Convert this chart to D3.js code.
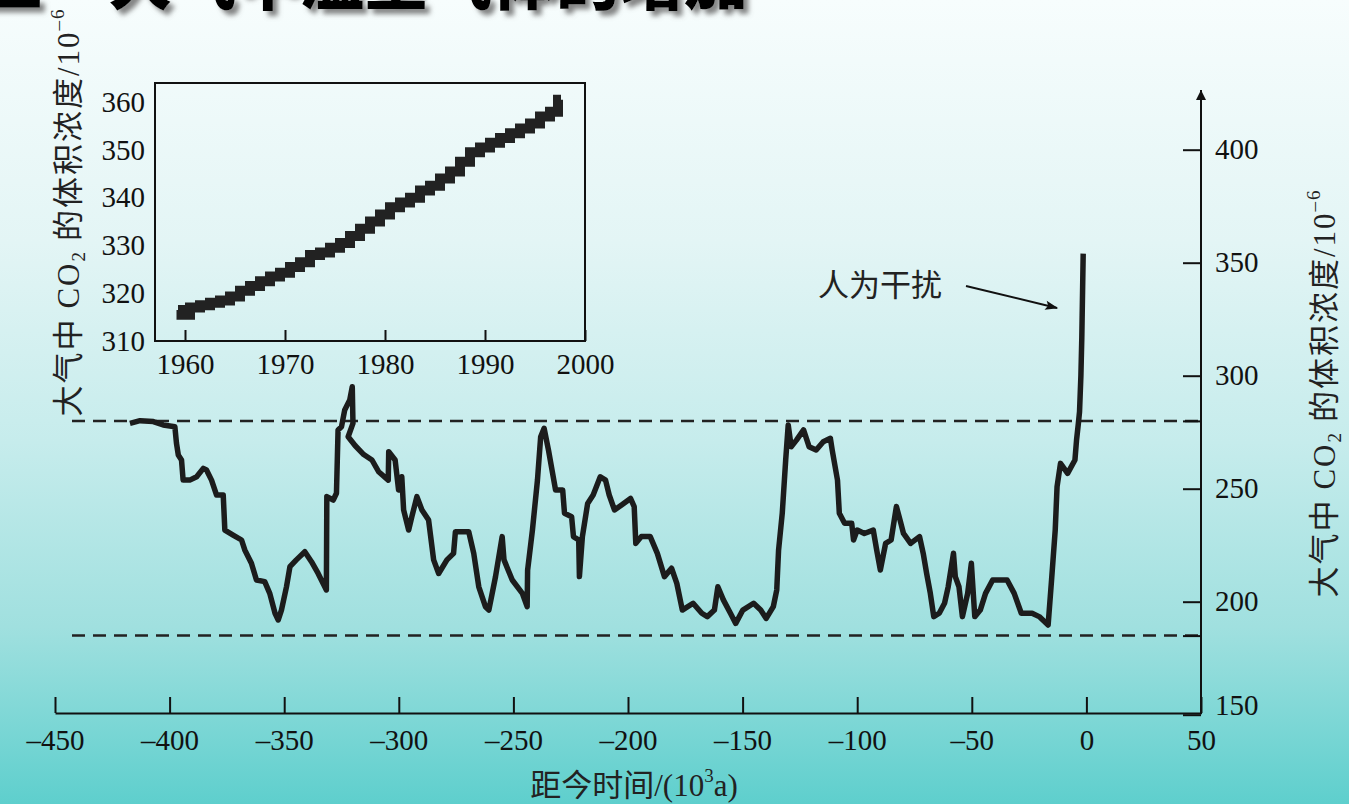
<!DOCTYPE html>
<html>
<head>
<meta charset="utf-8">
<script src="https://cdn.jsdelivr.net/npm/d3@7"></script>
<style>
  html, body { margin: 0; padding: 0; }
  svg { display: block; }
  .num { font-family: "Liberation Serif", "DejaVu Serif", serif; }
  .cjk { font-family: "Noto Sans CJK SC", sans-serif; }
</style>
</head>
<body>
<svg id="chart" width="1349" height="804"></svg>
<script>
// ---- data ----

// main chart: time before present (10^3 a) and CO2 (10^-6)
const kyr = [-417.3, -412.9, -407.1, -402.8, -397.7, -397.0, -396.2, -394.8, -394.1, -391.2,
  -388.2, -385.3, -383.9, -381.7, -379.5, -376.6, -375.9, -372.3, -368.6, -367.2,
  -364.3, -362.1, -358.5, -356.3, -354.0, -352.6, -351.2, -349.0, -347.5, -344.7,
  -341.0, -338.1, -335.2, -332.3, -331.6, -331.4, -328.6, -327.2, -326.5, -325.0,
  -323.6, -321.4, -320.3, -320.0, -322.1, -319.0, -315.3, -311.7, -308.8, -304.6,
  -304.4, -301.6, -300.1, -298.7, -297.9, -295.7, -294.3, -292.1, -289.9, -287.0,
  -284.8, -282.6, -279.0, -276.1, -275.3, -269.5, -267.3, -265.1, -262.2, -260.7,
  -257.8, -254.9, -254.1, -250.5, -246.1, -244.0, -243.8, -241.7, -239.5, -238.1,
  -236.6, -234.7, -231.6, -228.5, -227.7, -224.6, -223.8, -221.5, -221.2, -219.9,
  -217.6, -215.2, -212.1, -209.8, -208.2, -205.9, -202.8, -198.9, -197.3, -196.6,
  -194.2, -190.3, -187.2, -184.1, -181.0, -178.7, -176.3, -171.6, -167.8, -165.4,
  -162.3, -160.8, -158.4, -155.3, -153.0, -149.9, -145.2, -142.1, -139.7, -136.6,
  -135.1, -134.3, -132.7, -131.2, -130.1, -128.8, -126.5, -123.4, -121.0, -117.9,
  -114.8, -111.7, -110.9, -108.6, -107.8, -105.5, -102.4, -101.6, -100.0, -96.9,
  -93.0, -91.5, -89.9, -87.6, -85.2, -82.9, -81.3, -79.8, -76.7, -72.8,
  -71.2, -69.7, -68.1, -66.6, -64.2, -61.9, -60.3, -58.0, -57.2, -55.6,
  -54.1, -51.8, -50.2, -48.7, -46.3, -44.0, -40.9, -34.6, -31.5, -28.4,
  -23.7, -20.6, -16.7, -15.2, -13.6, -12.8, -11.3, -8.2, -5.0, -4.3,
  -3.5, -3.0, -2.4, -2.0, -1.4];
const co2 = [278.9, 280.1, 279.7, 278.2, 277.4, 270.1, 264.9, 262.7, 253.8, 253.8,
  255.3, 259.0, 258.3, 253.8, 247.2, 247.2, 231.7, 229.5, 227.3, 222.9,
  217.0, 209.6, 208.9, 203.7, 194.9, 191.9, 196.3, 206.6, 215.5, 218.5,
  222.1, 217.7, 212.5, 206.6, 205.2, 246.5, 245.0, 248.0, 276.0, 277.4,
  284.8, 289.2, 295.1, 278.9, 273.0, 269.0, 265.1, 262.7, 257.5, 253.8,
  266.4, 262.7, 249.4, 255.3, 240.6, 231.7, 237.6, 246.5, 240.6, 236.1,
  218.5, 212.5, 218.5, 221.4, 231.0, 231.0, 221.4, 206.6, 197.8, 196.3,
  211.1, 228.8, 218.5, 209.6, 203.7, 197.8, 214.0, 231.7, 253.8, 273.0,
  276.7, 267.1, 249.4, 249.4, 239.1, 237.6, 228.8, 227.3, 211.1, 228.8,
  243.5, 247.2, 255.3, 253.8, 247.2, 240.6, 242.8, 245.7, 242.1, 225.8,
  228.8, 228.8, 221.4, 211.1, 214.8, 208.1, 196.3, 199.3, 194.9, 193.4,
  196.3, 206.6, 200.8, 194.9, 190.4, 196.3, 199.3, 196.3, 192.6, 197.8,
  205.2, 222.9, 239.1, 262.7, 278.2, 268.6, 271.5, 276.0, 268.6, 267.1,
  270.8, 272.3, 267.1, 253.8, 239.1, 234.7, 234.7, 227.3, 231.7, 230.2,
  231.7, 222.9, 214.0, 225.8, 227.3, 242.1, 236.1, 230.2, 225.8, 228.8,
  221.4, 212.5, 203.7, 193.4, 194.9, 199.3, 206.6, 221.4, 211.1, 206.6,
  193.4, 203.7, 217.0, 193.4, 196.3, 203.7, 209.6, 209.6, 203.7, 194.9,
  194.9, 193.4, 189.7, 209.6, 231.7, 250.9, 261.2, 256.8, 262.7, 271.5,
  278.9, 284.0, 300.0, 317.0, 354.0];

// inset: Mauna Loa record, year and CO2 (10^-6)
const years = [1959.3, 1960, 1961, 1962, 1963, 1964, 1965, 1966, 1967, 1968,
  1969, 1970, 1971, 1972, 1973, 1974, 1975, 1976, 1977, 1978,
  1979, 1980, 1981, 1982, 1983, 1984, 1985, 1986, 1987, 1988,
  1989, 1990, 1991, 1992, 1993, 1994, 1995, 1996, 1997, 1997.6];
const ppm = [316.5, 315.5, 317, 317.5, 318, 318.5, 319.3, 320.5, 321.5, 322.5,
  323.5, 324.3, 325.5, 326.5, 328, 328.5, 329.5, 330.5, 332, 333.5,
  335, 336.5, 338, 339, 340, 341.5, 342.5, 344, 345.5, 347.5,
  349.5, 350.5, 351.5, 352.5, 353.5, 354.5, 355.5, 357, 358, 360.5];

// tick labels and reference levels
const mainXTicks = d3.range(-450, 51, 50);
const mainYTicks = [150, 200, 250, 300, 350, 400];
const refLevels = [280, 185];
const insetXTicks = [1960, 1970, 1980, 1990, 2000];
const insetYTicks = [310, 320, 330, 340, 350, 360];

// ---- drawing ----
const svg = d3.select("#chart");
const W = 1349, H = 804;
const numFont = 29;
const labelFont = 31;

const defs = svg.append("defs");
const bg = defs.append("linearGradient")
  .attr("id", "bg").attr("x1", 0).attr("y1", 0).attr("x2", 0).attr("y2", 1);
[[0, "#f7fdfd"], [0.3, "#e3f5f5"], [0.55, "#c6ecec"], [0.78, "#a0e0df"], [1, "#5ecfcd"]]
  .forEach(s => bg.append("stop").attr("offset", s[0]).attr("stop-color", s[1]));

const shadow = defs.append("filter").attr("id", "shadow")
  .attr("x", "-10%").attr("y", "-50%").attr("width", "120%").attr("height", "200%");
shadow.append("feDropShadow")
  .attr("dx", 5).attr("dy", 5).attr("stdDeviation", 2.5)
  .attr("flood-color", "#666").attr("flood-opacity", 0.8);

defs.append("marker")
  .attr("id", "arrow")
  .attr("viewBox", "0 0 10 10")
  .attr("refX", 10).attr("refY", 5)
  .attr("markerWidth", 10).attr("markerHeight", 12)
  .attr("markerUnits", "userSpaceOnUse")
  .attr("orient", "auto")
  .append("path").attr("d", "M0,0L10,5L0,10Z").attr("fill", "#111");

defs.append("marker")
  .attr("id", "head")
  .attr("viewBox", "0 0 10 10")
  .attr("refX", 9).attr("refY", 5)
  .attr("markerWidth", 26).attr("markerHeight", 13)
  .attr("markerUnits", "userSpaceOnUse")
  .attr("orient", "auto")
  .append("path").attr("d", "M0,1.5L10,5L0,8.5L2,5Z").attr("fill", "#111");

svg.append("rect").attr("width", W).attr("height", H).attr("fill", "url(#bg)");

// slide title, mostly cut off at the top edge
svg.append("text")
  .attr("class", "cjk")
  .attr("x", -20).attr("y", 4)
  .attr("font-size", 64).attr("font-weight", 900)
  .attr("filter", "url(#shadow)")
  .text("三　大气中温室气体的增加");

// main scales
const x = d3.scaleLinear().domain([-450, 50]).range([55, 1201]);
const y = d3.scaleLinear().domain([150, 400]).range([714.7, 149.7]);
const axisY = 713;

// reference dashed lines
svg.selectAll(".ref")
  .data(refLevels)
  .enter()
  .append("line")
  .attr("class", "ref")
  .attr("x1", 72).attr("x2", x(50))
  .attr("y1", d => y(d)).attr("y2", d => y(d))
  .attr("stroke", "#222").attr("stroke-width", 2.5)
  .attr("stroke-dasharray", "13,8");

// main x axis
const xAxis = svg.append("g")
  .attr("transform", "translate(0," + axisY + ")")
  .call(d3.axisBottom(x)
    .tickValues(mainXTicks)
    .tickSize(-16)
    .tickSizeOuter(0)
    .tickPadding(16)
    .tickFormat(d => d < 0 ? "\u2013" + Math.abs(d) : d));
xAxis.select(".domain").attr("stroke", "#111").attr("stroke-width", 2);
xAxis.selectAll(".tick line").attr("stroke", "#111").attr("stroke-width", 2);
xAxis.selectAll(".tick text")
  .attr("class", "num").attr("font-size", numFont).attr("fill", "#111");

// right y axis
const yAxis = svg.append("g")
  .attr("transform", "translate(" + x(50) + ",0)")
  .call(d3.axisRight(y)
    .tickValues(mainYTicks.concat(refLevels))
    .tickSize(-18)
    .tickPadding(14)
    .tickFormat(d => mainYTicks.includes(d) ? d : ""));
yAxis.select(".domain").remove();
yAxis.selectAll(".tick line").attr("stroke", "#111").attr("stroke-width", 2);
yAxis.selectAll(".tick text")
  .attr("class", "num").attr("font-size", numFont).attr("fill", "#111")
  .attr("dy", d => d === 150 ? "0em" : "0.32em");
svg.append("line")
  .attr("x1", x(50)).attr("x2", x(50))
  .attr("y1", axisY + 1).attr("y2", 90)
  .attr("stroke", "#111").attr("stroke-width", 2)
  .attr("marker-end", "url(#arrow)");

// main CO2 curve
const line = d3.line()
  .x((d, i) => x(kyr[i]))
  .y(d => y(d));
svg.append("path")
  .attr("d", line(co2))
  .attr("fill", "none")
  .attr("stroke", "#1c1c1c")
  .attr("stroke-width", 5.5)
  .attr("stroke-linejoin", "round");

// axis titles
function co2Label(g) {
  g.append("tspan").text("大气中 ");
  g.append("tspan").attr("class", "num").text("CO");
  g.append("tspan").attr("class", "num").attr("font-size", 19).attr("dy", 6).text("2");
  g.append("tspan").attr("dy", -6).text(" 的体积浓度");
  g.append("tspan").attr("class", "num").text("/10");
  g.append("tspan").attr("class", "num").attr("font-size", 19).attr("dy", -15).text("\u20136");
}

svg.append("text")
  .attr("class", "cjk")
  .attr("font-size", labelFont).attr("fill", "#222")
  .attr("letter-spacing", 2)
  .attr("text-anchor", "middle")
  .attr("transform", "translate(1335,393) rotate(-90)")
  .call(co2Label);

svg.append("text")
  .attr("class", "cjk")
  .attr("font-size", labelFont).attr("fill", "#222")
  .attr("letter-spacing", 2)
  .attr("text-anchor", "middle")
  .attr("transform", "translate(79,212) rotate(-90)")
  .call(co2Label);

const xTitle = svg.append("text")
  .attr("class", "cjk")
  .attr("font-size", labelFont).attr("fill", "#222")
  .attr("text-anchor", "middle")
  .attr("x", 634).attr("y", 796);
xTitle.append("tspan").text("距今时间");
xTitle.append("tspan").attr("class", "num").text("/(10");
xTitle.append("tspan").attr("class", "num").attr("font-size", 19).attr("dy", -14).text("3");
xTitle.append("tspan").attr("class", "num").attr("dy", 14).text("a)");

// annotation
svg.append("text")
  .attr("class", "cjk")
  .attr("font-size", 31).attr("fill", "#222")
  .attr("x", 818).attr("y", 296)
  .text("人为干扰");
svg.append("line")
  .attr("x1", 966).attr("y1", 286)
  .attr("x2", 1057).attr("y2", 308)
  .attr("stroke", "#111").attr("stroke-width", 2)
  .attr("marker-end", "url(#head)");

// ---- inset ----
const xi = d3.scaleLinear().domain([1957, 2000]).range([155, 585]);
const yi = d3.scaleLinear().domain([310, 364]).range([341, 83]);

svg.append("rect")
  .attr("x", xi(1957)).attr("y", yi(364))
  .attr("width", xi(2000) - xi(1957)).attr("height", yi(310) - yi(364))
  .attr("fill", "none").attr("stroke", "#111").attr("stroke-width", 2);

const ixAxis = svg.append("g")
  .attr("transform", "translate(0," + yi(310) + ")")
  .call(d3.axisBottom(xi)
    .tickValues(insetXTicks)
    .tickSize(-11)
    .tickSizeOuter(0)
    .tickPadding(12)
    .tickFormat(d3.format("d")));
ixAxis.select(".domain").remove();
ixAxis.selectAll(".tick line").attr("stroke", "#111").attr("stroke-width", 2);
ixAxis.selectAll(".tick text")
  .attr("class", "num").attr("font-size", numFont).attr("fill", "#111");

const iyAxis = svg.append("g")
  .attr("transform", "translate(" + xi(1957) + ",0)")
  .call(d3.axisLeft(yi)
    .tickValues(insetYTicks)
    .tickSize(0)
    .tickPadding(10));
iyAxis.select(".domain").remove();
iyAxis.selectAll(".tick text")
  .attr("class", "num").attr("font-size", numFont).attr("fill", "#111");

const iline = d3.line()
  .x((d, i) => xi(years[i]))
  .y(d => yi(d))
  .curve(d3.curveStep);
svg.append("path")
  .attr("d", iline(ppm))
  .attr("fill", "none")
  .attr("stroke", "#222")
  .attr("stroke-width", 10)
  .attr("stroke-linejoin", "miter");
</script>
</body>
</html>
